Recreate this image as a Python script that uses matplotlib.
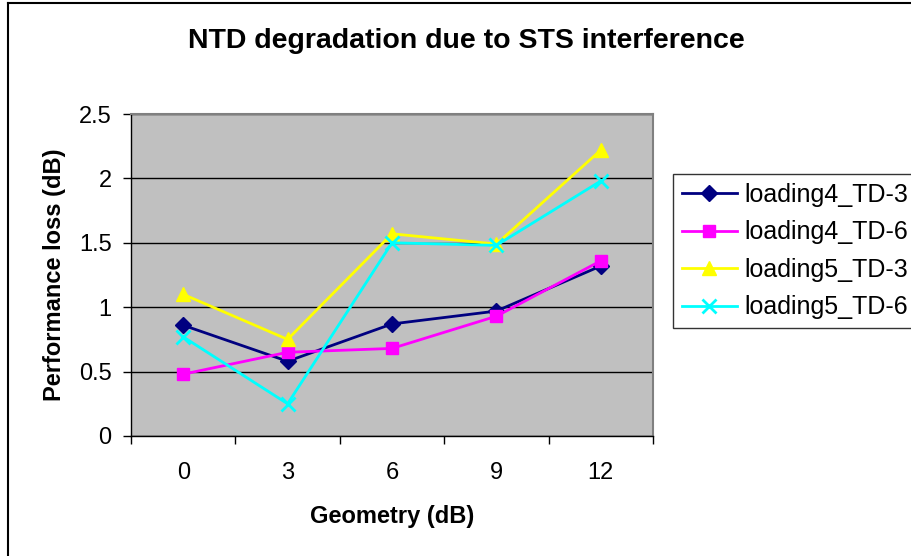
import matplotlib.pyplot as plt
import numpy as np

plt.rcParams['font.family'] = ['Liberation Sans', 'DejaVu Sans']

categories = ['0', '3', '6', '9', '12']
l4_td3 = [0.86, 0.58, 0.87, 0.97, 1.32]
l4_td6 = [0.48, 0.65, 0.68, 0.93, 1.36]
l5_td3 = [1.10, 0.75, 1.57, 1.49, 2.22]
l5_td6 = [0.77, 0.25, 1.50, 1.48, 1.98]
yticks = [0, 0.5, 1, 1.5, 2, 2.5]

fig = plt.figure(figsize=(9.11, 5.56), dpi=100)
W, H = 911, 556
ax = fig.add_axes([131 / W, 1 - 436 / H, (653 - 131) / W, (436 - 114) / H])
ax.set_facecolor('#C0C0C0')

x = np.arange(len(categories))
ax.plot(x, l4_td3, color='#000080', marker='D', markersize=8, lw=2, label='loading4_TD-3')
ax.plot(x, l4_td6, color='#FF00FF', marker='s', markersize=9, lw=2, label='loading4_TD-6')
ax.plot(x, l5_td3, color='#FFFF00', marker='^', markersize=10, lw=2, label='loading5_TD-3')
ax.plot(x, l5_td6, color='#00FFFF', marker='x', markersize=10, mew=2, lw=2, label='loading5_TD-6')

ax.set_xlim(-0.5, len(categories) - 0.5)
ax.set_ylim(0, 2.5)
ax.set_yticks(yticks)
ax.set_yticklabels(['0', '0.5', '1', '1.5', '2', '2.5'])
ax.yaxis.grid(True, color='black', lw=1)
ax.set_axisbelow(True)

ax.set_xticks(x)
ax.set_xticklabels(categories)
ax.tick_params(axis='x', length=0, labelsize=17, pad=19)
ax.set_xticks(np.arange(len(categories) + 1) - 0.5, minor=True)
ax.tick_params(axis='x', which='minor', length=6, width=1, direction='out')
ax.tick_params(axis='y', length=6, width=1, direction='out', labelsize=17, pad=8)

for s in ['top', 'right']:
    ax.spines[s].set_color('#808080')
    ax.spines[s].set_linewidth(1.5)
for s in ['left', 'bottom']:
    ax.spines[s].set_color('black')
    ax.spines[s].set_linewidth(1)

ax.set_xlabel('Geometry (dB)', fontsize=17, fontweight='bold', labelpad=15)
ax.set_ylabel('Performance loss (dB)', fontsize=17, fontweight='bold', labelpad=9)
fig.text(466 / W, 1 - 41 / H, 'NTD degradation due to STS interference',
         fontsize=20.5, fontweight='bold', ha='center', va='center')

leg = fig.legend(loc='upper left', bbox_to_anchor=(673 / W, 1 - 174 / H),
                 fontsize=18, frameon=True, fancybox=False, edgecolor='black',
                 handlelength=2.2, handletextpad=0.3, borderpad=0.35,
                 labelspacing=0.54, borderaxespad=0)
leg.get_frame().set_linewidth(1)

# outer chart border (only left and top edges visible)
fig.add_artist(plt.Line2D([8 / W, 8 / W], [0, 1 - 3 / H], color='black', lw=1.5))
fig.add_artist(plt.Line2D([8 / W, 1], [1 - 3 / H, 1 - 3 / H], color='black', lw=1.5))

fig.savefig('out.png', dpi=100)
